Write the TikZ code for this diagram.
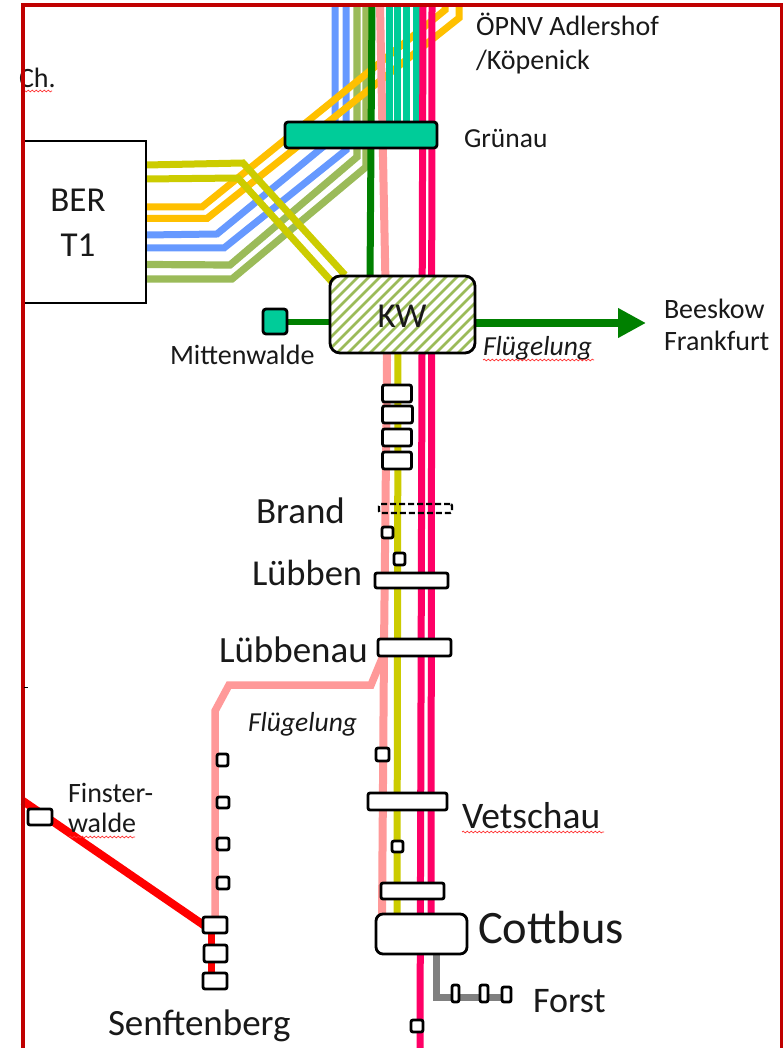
\documentclass[tikz,border=0pt]{standalone}
\usepackage{fontspec}
\setmainfont{Carlito}
\usetikzlibrary{arrows.meta,decorations.pathmorphing}
\pgfdeclarelayer{lines}
\pgfdeclarelayer{top}
\pgfsetlayers{lines,main,top}
\definecolor{frameRed}{HTML}{C00000}
\definecolor{tealC}{HTML}{00CC99}
\definecolor{blueC}{HTML}{6699FF}
\definecolor{oliveC}{HTML}{9BBB59}
\definecolor{orangeC}{HTML}{FFC000}
\definecolor{yellowC}{HTML}{CCCC00}
\definecolor{dgreenC}{HTML}{008000}
\definecolor{lpinkC}{HTML}{FF9999}
\definecolor{pinkC}{HTML}{FF0066}
\definecolor{greyC}{HTML}{808080}
\tikzset{
  x=1pt,y=-1pt,
  boxbase/.style={draw=black,line width=2.8pt,inner sep=0pt,outer sep=0pt,fill=white,rounded corners=2pt},
  stationbox/.style={boxbase},
  dashbox/.style={boxbase,fill=none,dashed,dash pattern=on 6pt off 3pt,line width=2.4pt},
  tealbox/.style={boxbase,fill=tealC,rounded corners=3pt},
  route/.style={line width=#1,line join=miter},
  route/.default=5pt,
  lbl/.style={anchor=base west,inner sep=0pt,outer sep=0pt,text=black!90},
  wavy/.style={draw=red!80,line width=.7pt,decorate,decoration={snake,amplitude=.9pt,segment length=4pt}},
}
\newcommand{\stn}[6][stationbox]{%
  \node[#1,minimum width={#5-#3},minimum height={#6-#4}] (#2) at ({(#3+#5)/2},{(#4+#6)/2}) {};}
\begin{document}
\begin{tikzpicture}
\useasboundingbox (0,0) rectangle (783,1048);
\begin{pgfonlayer}{lines}
\fill[white] (0,0) rectangle (783,1048);
\end{pgfonlayer}
% boxes
\node[boxbase,rounded corners=0pt,minimum width=122pt,minimum height=162pt] (ber) at (85,222) {};
\node[font=\fontsize{35}{45}\selectfont,align=center,text=black!90,inner sep=0pt] (bertext) at (78,223) {BER\\T1};
\stn[tealbox]{gruenau}{285}{122}{437}{148}
\node[boxbase,rounded corners=10pt,minimum width=145pt,minimum height=77pt,
  path picture={\foreach \d in {0,11,...,240}{\draw[oliveC,line width=2.7pt]
    ([xshift=\d pt-80pt,yshift=-10pt]path picture bounding box.south west) -- ++(100pt,100pt);}}] (kw) at (402.5,314.5) {};
\node[font=\fontsize{35}{35}\selectfont,text=black!90,inner sep=0pt] (kwtext) at (402,316) {KW};
\stn[tealbox]{mitt}{263}{309}{287}{334}
\stn{b1}{382.5}{385}{411.5}{402}
\stn{b2}{382.5}{406}{412.5}{423}
\stn{b3}{382.5}{429}{411.5}{446}
\stn{b4}{382.5}{452}{411.5}{469}
\stn[dashbox]{brand}{379}{504}{452}{513}
\stn{s1}{382}{527}{393}{538}
\stn{s2}{394}{553}{405}{565}
\stn{luebben}{375}{573}{448}{588}
\stn{luebbenau}{378}{639}{451}{656}
\stn{s3}{376}{748}{389}{761}
\stn{vetschau}{368}{793}{447}{810}
\stn{s4}{392}{841}{403}{852}
\stn{b5}{381}{883}{444}{899}
\node[boxbase,rounded corners=7pt,minimum width=91pt,minimum height=40pt] (cottbus) at (421.5,934) {};
\stn{f1}{452}{985}{459}{1002}
\stn{f2}{480}{985}{488}{1002}
\stn{f3}{502}{987}{511}{1002}
\stn{s5}{411}{1020}{423}{1032}
\stn{fw}{28}{809}{52}{825}
\stn{q1}{217}{754}{228}{766}
\stn{q2}{217}{797}{229}{808}
\stn{q3}{217}{838}{229}{850}
\stn{q4}{217}{877}{229}{889}
\stn{sb1}{203}{917}{227}{933}
\stn{sb2}{204}{945}{227}{962}
\stn{sb3}{203}{973}{227}{989}
% named waypoints
\coordinate (tBl1) at (335,5); \coordinate (mBl1) at (335,137); \coordinate (kBl1) at (217,234); \coordinate (eBl1) at (147,235);
\coordinate (tBl2) at (346,5); \coordinate (mBl2) at (346,150); \coordinate (kBl2) at (224,248); \coordinate (eBl2) at (147,248);
\coordinate (tOl1) at (357,5); \coordinate (mOl1) at (357,157); \coordinate (kOl1) at (230,265); \coordinate (eOl1) at (147,264.5);
\coordinate (tOl2) at (366,5); \coordinate (mOl2) at (366,167); \coordinate (kOl2) at (232,279); \coordinate (eOl2) at (147,279);
\coordinate (tOr1) at (445,5); \coordinate (mOr1) at (445,10); \coordinate (kOr1) at (202,207); \coordinate (eOr1) at (147,207);
\coordinate (tOr2) at (459,5); \coordinate (mOr2) at (459,18); \coordinate (kOr2) at (207,218.5); \coordinate (eOr2) at (147,218.5);
\coordinate (eYe1) at (147,165); \coordinate (kYe1) at (243,163); \coordinate (zYe1) at (345,275);
\coordinate (eYe2) at (147,179); \coordinate (kYe2) at (238,178); \coordinate (zYe2) at (332,282);
\coordinate (tGr) at (372,5); \coordinate (zGr) at (370,280);
\coordinate (tLp) at (380,5); \coordinate (bLp) at (387,360); \coordinate (cLp) at (384,648); \coordinate (zLp) at (382,918);
\coordinate (aLp) at (383,657); \coordinate (dLp) at (371,685); \coordinate (gLp) at (229,685); \coordinate (hLp) at (215,711); \coordinate (jLp) at (215,925);
\coordinate (tT1) at (389,5); \coordinate (tT2) at (397,5); \coordinate (tT3) at (406,5); \coordinate (tT4) at (416,5);
\coordinate (tP1) at (423,5); \coordinate (tP2) at (432,5);
\coordinate (bP1) at (420,1048); \coordinate (bP2) at (431,918);
\coordinate (mYe) at (398,350); \coordinate (bYe) at (397,918);
\coordinate (kGy) at (436,997); \coordinate (rd0) at (23,801); \coordinate (rd1) at (205,926); \coordinate (rd2) at (211,925); \coordinate (rd3) at (211,985);
\coordinate (arEnd) at (646,323);
\begin{pgfonlayer}{lines}
\draw[route=7pt,blueC] (tBl1) -- (mBl1) -- (kBl1) -- (eBl1 -| ber.east);
\draw[route=7pt,blueC] (tBl2) -- (mBl2) -- (kBl2) -- (eBl2 -| ber.east);
\draw[route=7.2pt,oliveC] (tOl1) -- (mOl1) -- (kOl1) -- (eOl1 -| ber.east);
\draw[route=7.2pt,oliveC] (tOl2) -- (mOl2) -- (kOl2) -- (eOl2 -| ber.east);
\draw[route=7pt,orangeC] (tOr1) -- (mOr1) -- (kOr1) -- (eOr1 -| ber.east);
\draw[route=7pt,orangeC] (tOr2) -- (mOr2) -- (kOr2) -- (eOr2 -| ber.east);
\draw[route=7pt,dgreenC] (tGr) -- (zGr);
\draw[route=8pt,lpinkC] (tLp) -- (bLp) -- (cLp) -- (zLp);
\draw[route=7.5pt,lpinkC] (luebbenau.south -| aLp) -- (dLp) -- (gLp) -- (hLp) -- (jLp);
\foreach \c in {tT1,tT2,tT3,tT4}{\draw[route=7pt,tealC] (\c) -- (\c |- gruenau.north);}
\draw[route=7pt,pinkC] (tP1) -- (bP1);
\draw[route=7pt,pinkC] (tP2) -- (bP2);
\draw[route=7pt,yellowC] (eYe1 -| ber.east) -- (kYe1) -- (zYe1);
\draw[route=7pt,yellowC] (eYe2 -| ber.east) -- (kYe2) -- (zYe2);
\draw[route=7pt,yellowC] (mYe) -- (bYe);
\draw[route=7pt,greyC] (cottbus.south -| kGy) -- (kGy) -- (kGy -| f3.center);
\draw[route=8pt,red] (rd0) -- (rd1);
\draw[route=7pt,red] (rd2) -- (rd3);
\draw[route=6pt,dgreenC] (mitt.east) -- (kw.west |- mitt.east);
\draw[line width=7.5pt,dgreenC,-{Triangle[length=28pt,width=28pt]}] (kw.east |- arEnd) -- (arEnd);
\end{pgfonlayer}
% labels
\node[lbl,font=\fontsize{28}{28}\selectfont] (t1) at (476,36) {ÖPNV Adlershof};
\node[lbl,font=\fontsize{28}{28}\selectfont] (t2) at (476,70) {/Köpenick};
\node[lbl,font=\fontsize{27.5}{27.5}\selectfont] (t3) at (464,148) {Grünau};
\node[lbl,font=\fontsize{28}{28}\selectfont] (t4) at (170,364) {Mittenwalde};
\node[lbl,font=\fontsize{28}{28}\selectfont] (t5) at (664,318) {Beeskow};
\node[lbl,font=\fontsize{28}{28}\selectfont] (t6) at (664,350) {Frankfurt};
\node[lbl,font=\fontsize{27.5}{27.5}\selectfont\itshape] (t7) at (483,355) {Flügelung};
\node[lbl,font=\fontsize{27.5}{27.5}\selectfont\itshape] (t8) at (248,731) {Flügelung};
\node[lbl,font=\fontsize{37}{37}\selectfont] (t9) at (256,523) {Brand};
\node[lbl,font=\fontsize{36.5}{36.5}\selectfont] (t10) at (252,585) {Lübben};
\node[lbl,font=\fontsize{37}{37}\selectfont] (t11) at (219,662) {Lübbenau};
\node[lbl,font=\fontsize{37.5}{37.5}\selectfont] (t12) at (462,828) {Vetschau};
\node[lbl,font=\fontsize{46.5}{46.5}\selectfont] (t13) at (478,943) {Cottbus};
\node[lbl,font=\fontsize{36}{36}\selectfont] (t14) at (533,1012) {Forst};
\node[lbl,font=\fontsize{37}{37}\selectfont] (t15) at (108,1035) {Senftenberg};
\node[lbl,font=\fontsize{28}{28}\selectfont] (t16) at (68,802) {Finster-};
\node[lbl,font=\fontsize{28}{28}\selectfont] (t17) at (68,832) {walde};
\node[lbl,font=\fontsize{28}{28}\selectfont] (t18) at (19,88) {Ch.};
% spell-check underlines
\coordinate (w1a) at (23,91); \coordinate (w1b) at (52,91);
\coordinate (w2a) at (483,360); \coordinate (w2b) at (594,360);
\coordinate (w3a) at (462,832); \coordinate (w3b) at (604,832);
\coordinate (w4a) at (69,837); \coordinate (w4b) at (135,837);
\foreach \a/\b in {w1a/w1b,w2a/w2b,w3a/w3b,w4a/w4b}{\path[wavy] (\a) -- (\b);}
\begin{pgfonlayer}{top}
\coordinate (fTL) at (23,5); \coordinate (fBL) at (23,1048); \coordinate (fTR) at (781.5,5); \coordinate (fBR) at (781.5,1048);
\draw[frameRed,line width=3.2pt] (fBL) -- (fTL) -- (fTR) -- (fBR);
\coordinate (tk1) at (24,687); \coordinate (tk2) at (28,687);
\draw[black,line width=.8pt] (tk1) -- (tk2);
\end{pgfonlayer}
\end{tikzpicture}
\end{document}
